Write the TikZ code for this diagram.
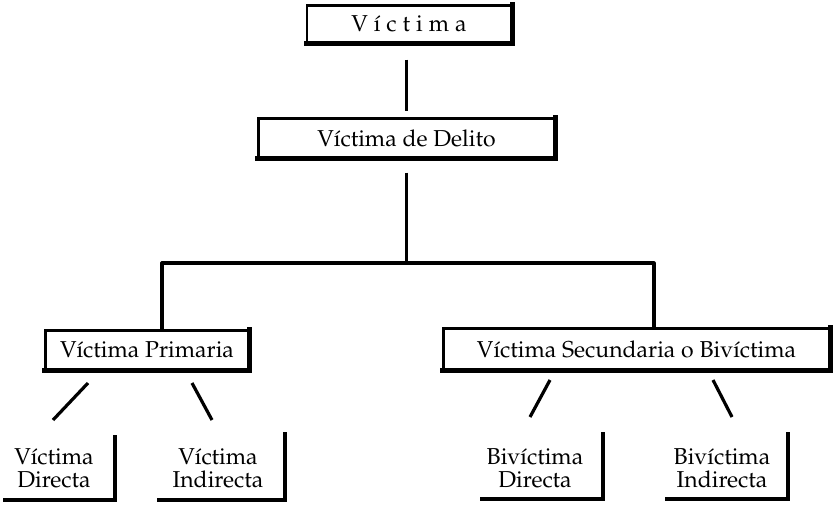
\documentclass[tikz,border=0pt]{standalone}
\usepackage[T1]{fontenc}
\usepackage{mathpazo}
\usetikzlibrary{calc}

\newcommand\Vic{V\'{\i}ctima}
\newcommand\Bivic{Biv\'{\i}ctima}
\newcommand\lsp{\hspace{6pt}}

\tikzset{
  thin edge/.style={line width=2.2pt},
  heavy/.style={line width=4.8pt, line cap=rect},
  conn/.style={line width=3.2pt},
  framebox/.style={draw, thin edge, inner sep=0pt, align=center,
    font=\fontsize{23}{23}\selectfont},
  leaf/.style={inner sep=0pt, align=center,
    font=\fontsize{23}{23}\selectfont},
}

\begin{document}
\begin{tikzpicture}[x=1pt, y=-1pt]
  \useasboundingbox (0,0) rectangle (837,506);

  % framed boxes
  \node[framebox, minimum width=204pt, minimum height=37pt] (top) at (409,24)
    {V\lsp\'{\i}\lsp c\lsp t\lsp i\lsp m\lsp a};
  \node[framebox, minimum width=296pt, minimum height=39pt] (delito) at (406.5,138)
    {\Vic{} de Delito};
  \node[framebox, minimum width=203pt, minimum height=39pt] (prim) at (147,350)
    {\Vic{} Primaria};
  \node[framebox, minimum width=386pt, minimum height=41pt] (sec) at (636.5,349)
    {\Vic{} Secundaria o \Bivic};

  % heavy right and bottom edges of the frames
  \foreach \n in {top,delito,prim,sec}
    \draw[heavy] (\n.north east) -- (\n.south east) -- (\n.south west);

  % trunk and branches
  \coordinate (split) at (406.5,263);
  \coordinate (jl) at (162,263);
  \coordinate (jr) at (654,263);
  \draw[conn, shorten <=16pt, shorten >=6pt] (top.south -| delito.north) -- (delito.north);
  \draw[conn, shorten <=14pt] (delito.south) -- (split);
  \draw[conn, line join=round] (prim.north -| jl) -- (jl) -- (jr) -- (sec.north -| jr);

  % leaves
  \node[leaf] (vd) at (54,468) {\Vic\\Directa};
  \node[leaf] (vi) at (218,468) {\Vic\\Indirecta};
  \node[leaf] (bd) at (535,468) {\Bivic\\Directa};
  \node[leaf] (bi) at (722,468) {\Bivic\\Indirecta};

  % brackets under the leaves
  \coordinate (vd-t) at (115,435); \coordinate (vd-c) at (115,500); \coordinate (vd-l) at (3,500);
  \coordinate (vi-t) at (285,432); \coordinate (vi-c) at (285,500); \coordinate (vi-l) at (157,500);
  \coordinate (bd-t) at (603,432); \coordinate (bd-c) at (603,499); \coordinate (bd-l) at (480,499);
  \coordinate (bi-t) at (788,432); \coordinate (bi-c) at (788,499); \coordinate (bi-l) at (665,499);
  \foreach \n in {vd,vi,bd,bi}
    \draw[heavy, line width=4.2pt, line cap=butt] (\n-t) -- (\n-c) -- (\n-l);

  % slanted links from the second level to the leaves
  \coordinate (p1) at (88,383);  \coordinate (p2) at (53,420);
  \coordinate (p3) at (192,383); \coordinate (p4) at (212,420);
  \coordinate (s1) at (550,380); \coordinate (s2) at (530,417);
  \coordinate (s3) at (713,380); \coordinate (s4) at (732,417);
  \draw[conn] (p1) -- (p2);
  \draw[conn] (p3) -- (p4);
  \draw[conn] (s1) -- (s2);
  \draw[conn] (s3) -- (s4);
\end{tikzpicture}
\end{document}
